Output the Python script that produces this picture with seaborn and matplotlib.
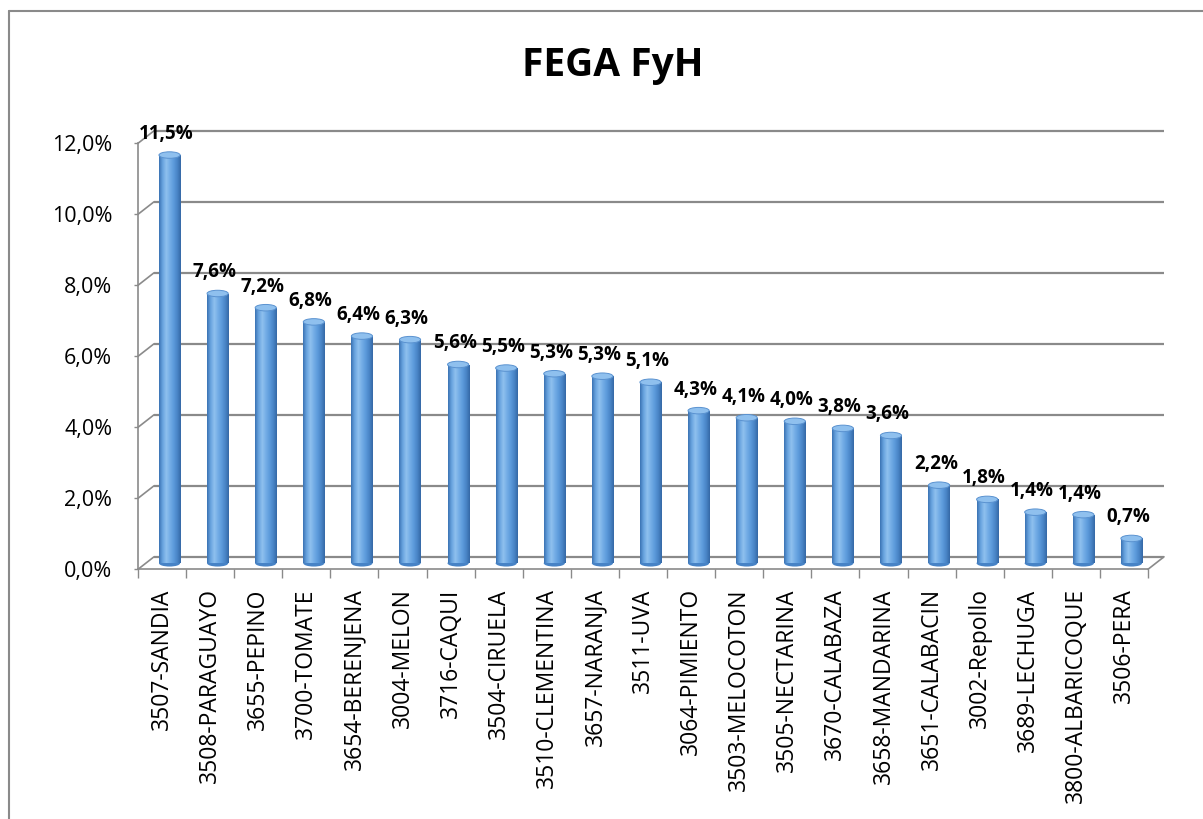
import numpy as np
import pandas as pd
import matplotlib
matplotlib.use("Agg")
import matplotlib.pyplot as plt
import seaborn as sns
from matplotlib.patches import Ellipse
from matplotlib.lines import Line2D
from matplotlib.transforms import Affine2D
from matplotlib.colors import LinearSegmentedColormap

# ---------------- data ----------------
title = "FEGA FyH"
categories = [
    "3507-SANDIA", "3508-PARAGUAYO", "3655-PEPINO", "3700-TOMATE",
    "3654-BERENJENA", "3004-MELON", "3716-CAQUI", "3504-CIRUELA",
    "3510-CLEMENTINA", "3657-NARANJA", "3511-UVA", "3064-PIMIENTO",
    "3503-MELOCOTON", "3505-NECTARINA", "3670-CALABAZA", "3658-MANDARINA",
    "3651-CALABACIN", "3002-Repollo", "3689-LECHUGA", "3800-ALBARICOQUE",
    "3506-PERA",
]
values = [11.5, 7.6, 7.2, 6.8, 6.4, 6.3, 5.6, 5.5, 5.34, 5.27, 5.1, 4.3,
          4.1, 4.0, 3.8, 3.6, 2.2, 1.8, 1.44, 1.37, 0.7]
value_labels = ["11,5%", "7,6%", "7,2%", "6,8%", "6,4%", "6,3%", "5,6%",
                "5,5%", "5,3%", "5,3%", "5,1%", "4,3%", "4,1%", "4,0%",
                "3,8%", "3,6%", "2,2%", "1,8%", "1,4%", "1,4%", "0,7%"]
y_ticks = [0, 2, 4, 6, 8, 10, 12]
y_tick_labels = ["0,0%", "2,0%", "4,0%", "6,0%", "8,0%", "10,0%", "12,0%"]

# ---------------- style ----------------
sns.set_theme(style="white")
plt.rcParams['font.family'] = ['Open Sans', 'DejaVu Sans']

W, H = 1203, 819
fig = plt.figure(figsize=(W / 100, H / 100), dpi=100)
fig.patch.set_facecolor("white")

x0, x1 = 138, 1148
yb, yt = 569.3, 143.3
ax = fig.add_axes([x0 / W, (H - yb) / H, (x1 - x0) / W, (yb - yt) / H])

df = pd.DataFrame({"cat": categories, "val": values})
sns.barplot(data=df, x="cat", y="val", width=0.44, color="#5b9bd5",
            saturation=1, edgecolor="none", ax=ax, zorder=2)

n = len(categories)
ux = (x1 - x0) / n
uy = (yb - yt) / 12.0
bdx, bdy = 16 / ux, 12.5 / uy      # back wall offset
mdx, mdy = 7.5 / ux, 6 / uy        # bar plane offset
eh = 6.5 / uy                      # ellipse height in data units

grid_c = "#8a8a8a"

# cylinder shading
cyl = LinearSegmentedColormap.from_list(
    "cyl", ["#3b73b4", "#6aa5e0", "#8fc0ee", "#74ade6", "#5d9bdb", "#4a86c8", "#3569a6"])
grad = np.linspace(0, 1, 64).reshape(1, -1)

bars = list(ax.patches)
for p in bars:
    x = p.get_x()
    w = p.get_width()
    h = p.get_height()
    p.set_transform(Affine2D().translate(mdx, mdy) + ax.transData)
    p.set_clip_on(False)
    ax.add_patch(Ellipse((x + w / 2 + mdx, mdy), w, eh, facecolor="#4783c6",
                         edgecolor="none", zorder=1.9, clip_on=False))
    im = ax.imshow(grad, extent=(x + mdx, x + w + mdx, mdy, h + mdy),
                   aspect="auto", cmap=cyl, origin="lower", zorder=2.1,
                   interpolation="bilinear")
    im.set_clip_path(p)
    ax.add_patch(Ellipse((x + w / 2 + mdx, h + mdy), w, eh, facecolor="#8fc0ee",
                         edgecolor="#5a92d0", lw=0.7, zorder=2.3, clip_on=False))

# back wall gridlines and side wall diagonals
for v in y_ticks:
    ax.plot([-0.5 + bdx, n - 0.5 + bdx], [v + bdy, v + bdy], color=grid_c,
            lw=1.6, zorder=0.5, clip_on=False, solid_capstyle="butt")
    ax.plot([-0.5, -0.5 + bdx], [v, v + bdy], color=grid_c, lw=1.2,
            zorder=0.5, clip_on=False)
ax.plot([n - 0.5, n - 0.5 + bdx], [0, bdy], color=grid_c, lw=1.2,
        zorder=0.5, clip_on=False)

ax.set_xlim(-0.5, n - 0.5)
ax.set_ylim(0, 12)
ax.grid(False)
ax.set_facecolor("none")
for s in ["top", "right"]:
    ax.spines[s].set_visible(False)
for s in ["left", "bottom"]:
    ax.spines[s].set_color(grid_c)
    ax.spines[s].set_linewidth(1.2)

ax.set_yticks(y_ticks)
ax.set_yticklabels(y_tick_labels, fontsize=15.5, color="black")
ax.tick_params(axis="y", which="major", left=True, length=3, width=1,
               color=grid_c, pad=15.5)

ax.set_xticks(range(n))
ax.set_xticklabels(categories, rotation=90, fontsize=16.5, color="black")
ax.set_xticks(np.arange(-0.5, n, 1), minor=True)
ax.tick_params(axis="x", which="major", bottom=False, length=0, pad=13.7)
ax.tick_params(axis="x", which="minor", bottom=True, length=6.5, width=1,
               color=grid_c)
ax.set_xlabel("")
ax.set_ylabel("")

# data labels
for i, (v, lab) in enumerate(zip(values, value_labels)):
    ax.text(i + 0.09, v + 0.62, lab, ha="center", va="baseline",
            fontsize=13.5, fontweight="bold", color="black", zorder=5)

# title
fig.text(613 / W, (H - 76) / H, title, ha="center", va="baseline",
         fontsize=28, fontweight="bold", color="black")

# chart area border (top and left visible)
fig.add_artist(Line2D([9 / W, 1.0], [(H - 11) / H] * 2, transform=fig.transFigure,
                      color=grid_c, lw=1.5))
fig.add_artist(Line2D([9 / W, 9 / W], [0.0, (H - 11) / H], transform=fig.transFigure,
                      color=grid_c, lw=1.5))

fig.savefig("out.png", dpi=100)
